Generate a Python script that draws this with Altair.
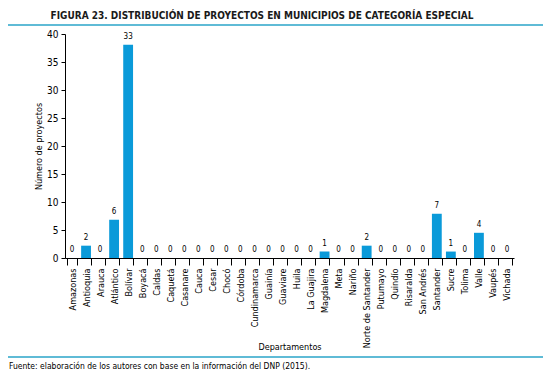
import altair as alt
import pandas as pd

departamentos = ["Amazonas", "Antioquia", "Arauca", "Atlántico", "Bolívar", "Boyacá", "Caldas",
                 "Caquetá", "Casanare", "Cauca", "Cesar", "Chocó", "Córdoba", "Cundinamarca",
                 "Guainía", "Guaviare", "Huila", "La Guajira", "Magdalena", "Meta", "Nariño",
                 "Norte de Santander", "Putumayo", "Quindío", "Risaralda", "San Andrés",
                 "Santander", "Sucre", "Tolima", "Valle", "Vaupés", "Vichada"]
# bar heights as drawn in the picture
alturas = [0, 2.2, 0, 6.85, 38.1, 0, 0, 0, 0, 0, 0, 0, 0, 0, 0, 0, 0, 0, 1.15, 0, 0,
           2.2, 0, 0, 0, 0, 7.9, 1.15, 0, 4.5, 0, 0]
# value labels as printed
etiquetas = ["0", "2", "0", "6", "33", "0", "0", "0", "0", "0", "0", "0", "0", "0", "0", "0",
             "0", "0", "1", "0", "0", "2", "0", "0", "0", "0", "7", "1", "0", "4", "0", "0"]
y_ticks = [0, 5, 10, 15, 20, 25, 30, 35, 40]

df = pd.DataFrame({"dep": departamentos, "v": alturas, "lab": etiquetas})

FONT = "Liberation Sans Narrow, DejaVu Sans Condensed, sans-serif"
W, H = 449, 224

xenc = alt.X("dep:N", sort=None, title="Departamentos",
             scale=alt.Scale(paddingInner=0.3, paddingOuter=0.15),
             axis=alt.Axis(labelAngle=270, labelFont=FONT, labelFontSize=9, labelColor="#000",
                           tickBand="extent", tickSize=7, tickColor="#000", domainColor="#000",
                           labelPadding=3, labelOverlap=False, titleFont=FONT, titleFontSize=9,
                           titleFontWeight="normal", titleColor="#000",
                           titleY=91, titleBaseline="alphabetic"))
yenc = alt.Y("v:Q", title="Número de proyectos",
             scale=alt.Scale(domain=[0, 40], nice=False),
             axis=alt.Axis(values=y_ticks, grid=False, tickSize=4,
                           tickColor="#000", domainColor="#000", labelFont=FONT, labelFontSize=10,
                           labelColor="#000", labelPadding=3, labelOverlap=False, titleFont=FONT,
                           titleFontSize=9, titleFontWeight="normal", titleColor="#000",
                           titlePadding=3))

base = alt.Chart(df).encode(x=xenc, y=yenc)
bars = base.mark_bar(color="#0A9AD9")
labels = base.mark_text(baseline="bottom", dy=-4, fontSize=8, font=FONT, color="#000").encode(
    text="lab:N")

one = pd.DataFrame({"a": [0]})
line_top = alt.Chart(one).mark_rule(color="#2AA5C8", strokeWidth=1.5).encode(
    x=alt.value(-57), x2=alt.value(481), y=alt.value(-9))
line_bot = alt.Chart(one).mark_rule(color="#2AA5C8", strokeWidth=1.5).encode(
    x=alt.value(-57), x2=alt.value(481), y=alt.value(323))
title = alt.Chart(pd.DataFrame({"t": ["FIGURA 23. DISTRIBUCIÓN DE PROYECTOS EN MUNICIPIOS DE CATEGORÍA ESPECIAL"]})).mark_text(
    font=FONT, fontSize=10, fontWeight="bold", color="#1a1a1a", baseline="alphabetic",
    align="center").encode(x=alt.value(197), y=alt.value(-15), text="t:N")
source = alt.Chart(pd.DataFrame({"t": ["Fuente: elaboración de los autores con base en la información del DNP (2015)."]})).mark_text(
    font=FONT, fontSize=8.5, color="#000", baseline="alphabetic", align="left").encode(
    x=alt.value(-56), y=alt.value(335), text="t:N")

chart = alt.layer(bars, labels, line_top, line_bot, title, source).properties(
    width=W, height=H,
    background="white",
    autosize=alt.AutoSizeParams(type="none"),
    padding={"left": 57, "top": 26, "right": 29, "bottom": 112},
).configure_view(stroke=None, strokeWidth=0)

chart.save("out.html", embed_options={"renderer": "svg", "actions": False})
